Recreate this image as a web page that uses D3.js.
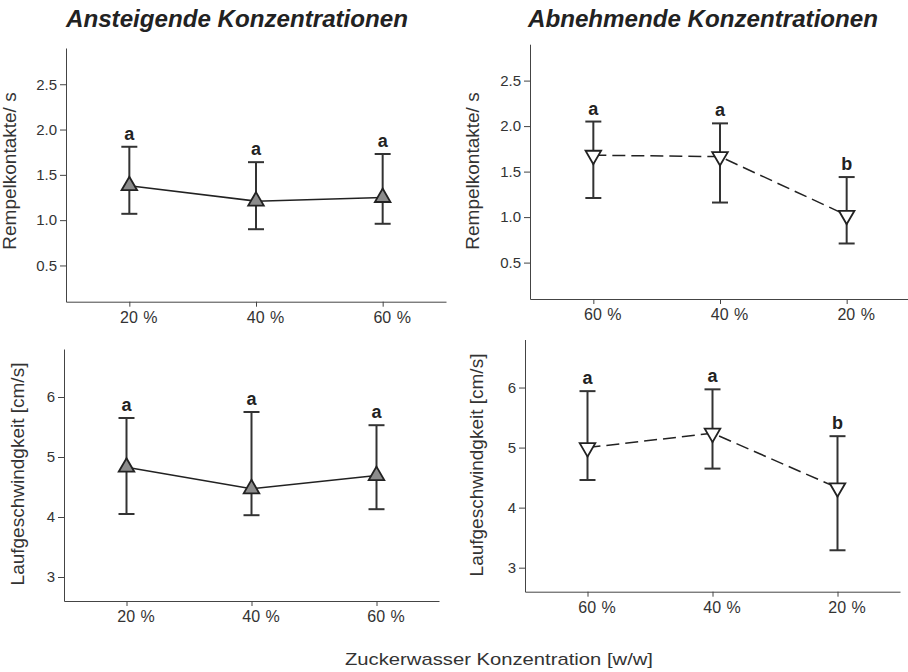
<!DOCTYPE html>
<html>
<head>
<meta charset="utf-8">
<script src="https://cdn.jsdelivr.net/npm/d3@7"></script>
<style>
    body { margin: 0; background: #fff; }
    svg { display: block; font-family: 'Liberation Sans', Arial, sans-serif; }
</style>
</head>
<body>
<svg width="908" height="672"></svg>
<script>
// concentrations, in the order they were offered
const risingLabels = ['20 %', '40 %', '60 %'];
const fallingLabels = ['60 %', '40 %', '20 %'];

// Rempelkontakte / s
const rempelRisingMean = [1.38, 1.21, 1.25];
const rempelRisingLow = [1.07, 0.90, 0.96];
const rempelRisingHigh = [1.81, 1.64, 1.73];
const rempelRisingGroups = ['a', 'a', 'a'];

const rempelFallingMean = [1.68, 1.665, 1.02];
const rempelFallingLow = [1.21, 1.16, 0.71];
const rempelFallingHigh = [2.05, 2.03, 1.44];
const rempelFallingGroups = ['a', 'a', 'b'];

// Laufgeschwindigkeit cm/s
const speedRisingMean = [4.83, 4.47, 4.69];
const speedRisingLow = [4.05, 4.03, 4.13];
const speedRisingHigh = [5.65, 5.75, 5.53];
const speedRisingGroups = ['a', 'a', 'a'];

const speedFallingMean = [5.0, 5.24, 4.33];
const speedFallingLow = [4.46, 4.65, 3.29];
const speedFallingHigh = [5.94, 5.97, 5.19];
const speedFallingGroups = ['a', 'a', 'b'];

const rempelTicks = [0.5, 1.0, 1.5, 2.0, 2.5];
const speedTicks = [3, 4, 5, 6];

const INK = '#222';
const AXIS = '#444';
const TEXT = '#333';

const svg = d3.select('svg');

function rows(labels, mean, low, high, groups) {
    return labels.map((label, i) => ({
        label: label,
        mean: mean[i],
        low: low[i],
        high: high[i],
        group: groups[i]
    }));
}

function drawPanel(opts) {
    const data = rows(opts.labels, opts.mean, opts.low, opts.high, opts.groups);

    const x = d3.scalePoint()
        .domain(opts.labels)
        .range([opts.left, opts.right])
        .padding(0.5);
    const y = d3.scaleLinear()
        .domain(opts.domain)
        .range([opts.bottom, opts.top]);

    const g = svg.append('g');

    // y axis
    const yAxis = g.append('g')
        .attr('transform', `translate(${opts.left},0)`)
        .call(d3.axisLeft(y)
            .tickValues(opts.ticks)
            .tickFormat(opts.format)
            .tickSizeInner(6)
            .tickSizeOuter(0)
            .tickPadding(3));
    yAxis.select('.domain').attr('stroke', AXIS);
    yAxis.selectAll('.tick line').attr('stroke', AXIS);
    yAxis.selectAll('.tick text')
        .attr('fill', TEXT)
        .style('font-size', '15px');

    // x axis
    const xAxis = g.append('g')
        .attr('transform', `translate(0,${opts.bottom})`)
        .call(d3.axisBottom(x)
            .tickSizeInner(5)
            .tickSizeOuter(0)
            .tickPadding(5));
    xAxis.select('.domain').attr('stroke', AXIS);
    xAxis.selectAll('.tick line').attr('stroke', AXIS);
    xAxis.selectAll('.tick text')
        .attr('fill', TEXT)
        .attr('dx', 9)
        .style('font-size', '16px')
        .style('word-spacing', '1px');

    // y title
    g.append('text')
        .attr('transform', `translate(${opts.titleX},${opts.titleY}) rotate(-90)`)
        .attr('text-anchor', 'middle')
        .attr('fill', TEXT)
        .style('font-size', '19px')
        .text(opts.yTitle);

    // connecting line
    const line = d3.line()
        .x((d) => x(d.label))
        .y((d) => y(d.mean));
    g.append('path')
        .datum(data)
        .attr('d', line)
        .attr('fill', 'none')
        .attr('stroke', INK)
        .attr('stroke-width', 1.5)
        .attr('stroke-dasharray', opts.dashed ? '13,6' : null);

    // error bars
    const bars = g.append('g')
        .attr('stroke', '#333')
        .attr('stroke-width', 2);
    data.forEach((d) => {
        const cx = x(d.label);
        bars.append('line')
            .attr('x1', cx).attr('x2', cx)
            .attr('y1', y(d.low)).attr('y2', y(d.high));
        bars.append('line')
            .attr('x1', cx - 8).attr('x2', cx + 8)
            .attr('y1', y(d.low)).attr('y2', y(d.low));
        bars.append('line')
            .attr('x1', cx - 8).attr('x2', cx + 8)
            .attr('y1', y(d.high)).attr('y2', y(d.high));
    });

    // markers
    const symbol = d3.symbol().type(d3.symbolTriangle).size(105);
    g.append('g')
        .selectAll('path')
        .data(data)
        .join('path')
        .attr('d', symbol)
        .attr('transform', (d) => `translate(${x(d.label)},${y(d.mean)})` + (opts.dashed ? ' rotate(180)' : ''))
        .attr('fill', opts.dashed ? '#fff' : '#8c8c8c')
        .attr('stroke', INK)
        .attr('stroke-width', 1.8);

    // significance letters
    g.append('g')
        .selectAll('text')
        .data(data)
        .join('text')
        .attr('x', (d) => x(d.label))
        .attr('y', (d) => y(d.high) - 7)
        .attr('text-anchor', 'middle')
        .attr('fill', INK)
        .style('font-size', '18px')
        .style('font-weight', 'bold')
        .text((d) => d.group);
}

drawPanel({
    labels: risingLabels, mean: rempelRisingMean, low: rempelRisingLow,
    high: rempelRisingHigh, groups: rempelRisingGroups,
    left: 66, right: 446, top: 48, bottom: 301.7,
    domain: [0.1, 2.9], ticks: rempelTicks, format: d3.format('.1f'),
    yTitle: 'Rempelkontakte/ s', titleX: 16, titleY: 171, dashed: false
});

drawPanel({
    labels: fallingLabels, mean: rempelFallingMean, low: rempelFallingLow,
    high: rempelFallingHigh, groups: rempelFallingGroups,
    left: 530, right: 910, top: 44.2, bottom: 299,
    domain: [0.1, 2.9], ticks: rempelTicks, format: d3.format('.1f'),
    yTitle: 'Rempelkontakte/ s', titleX: 479, titleY: 171, dashed: true
});

drawPanel({
    labels: risingLabels, mean: speedRisingMean, low: speedRisingLow,
    high: speedRisingHigh, groups: speedRisingGroups,
    left: 64, right: 439, top: 349, bottom: 601,
    domain: [2.6, 6.8], ticks: speedTicks, format: d3.format('d'),
    yTitle: 'Laufgeschwindgkeit [cm/s]', titleX: 24, titleY: 474, dashed: false
});

drawPanel({
    labels: fallingLabels, mean: speedFallingMean, low: speedFallingLow,
    high: speedFallingHigh, groups: speedFallingGroups,
    left: 525, right: 900, top: 339.5, bottom: 591.7,
    domain: [2.6, 6.8], ticks: speedTicks, format: d3.format('d'),
    yTitle: 'Laufgeschwindgkeit [cm/s]', titleX: 483, titleY: 465, dashed: true
});

// column titles
svg.append('text')
    .attr('x', 66).attr('y', 26.5)
    .attr('textLength', 342).attr('lengthAdjust', 'spacingAndGlyphs')
    .attr('fill', INK)
    .style('font-size', '23px').style('font-weight', 'bold').style('font-style', 'italic')
    .text('Ansteigende Konzentrationen');

svg.append('text')
    .attr('x', 528).attr('y', 26.5)
    .attr('textLength', 350).attr('lengthAdjust', 'spacingAndGlyphs')
    .attr('fill', INK)
    .style('font-size', '23px').style('font-weight', 'bold').style('font-style', 'italic')
    .text('Abnehmende Konzentrationen');

// shared x title
svg.append('text')
    .attr('x', 345).attr('y', 665)
    .attr('textLength', 308).attr('lengthAdjust', 'spacingAndGlyphs')
    .attr('fill', TEXT)
    .style('font-size', '17px')
    .text('Zuckerwasser Konzentration [w/w]');
</script>
</body>
</html>
